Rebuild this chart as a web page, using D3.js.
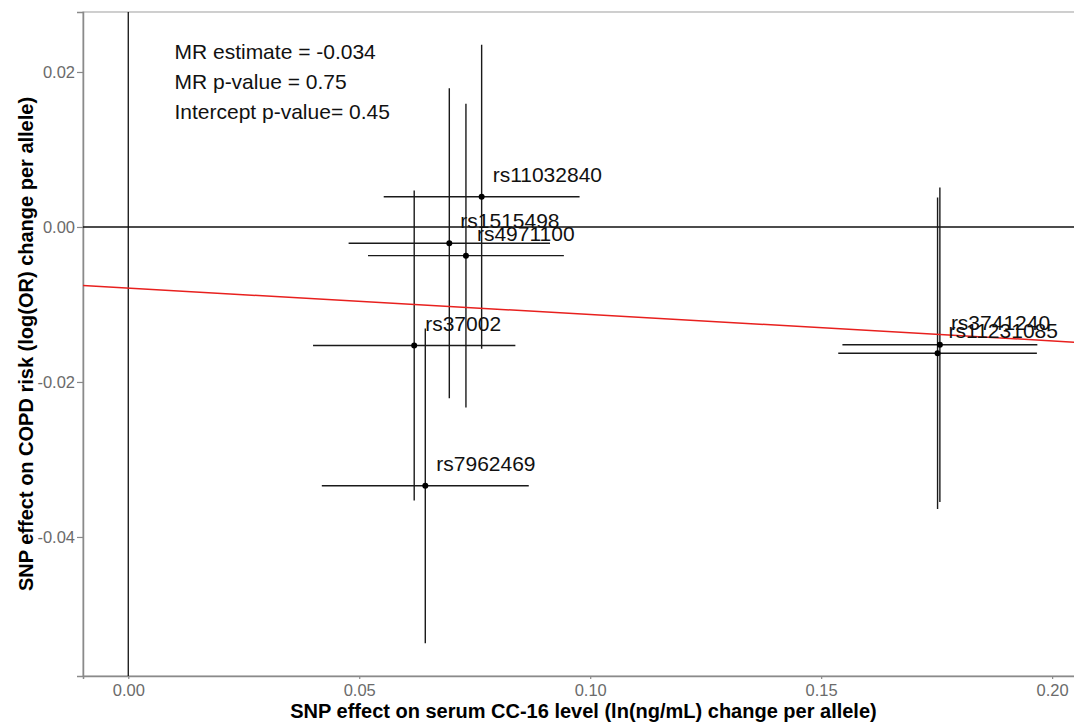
<!DOCTYPE html>
<html>
<head>
<meta charset="utf-8">
<script src="https://cdn.jsdelivr.net/npm/d3@7"></script>
<style>
  body { margin: 0; background: #fff; }
  svg { font-family: "Liberation Sans", Arial, Helvetica, sans-serif; }
</style>
</head>
<body>
<div id="chart"></div>
<script>
(function(){
// SNP data
const snps   = ["rs11032840", "rs1515498", "rs4971100", "rs37002", "rs7962469", "rs3741240", "rs11231085"];
const bx     = [0.0765, 0.0695, 0.0731, 0.0619, 0.0643, 0.1757, 0.1752];
const bxErr  = [0.0212, 0.0218, 0.0212, 0.0219, 0.0224, 0.0211, 0.0215];
const by     = [0.0039, -0.0021, -0.0037, -0.0153, -0.0334, -0.0152, -0.0163];
const byErr  = [0.0196, 0.0200, 0.0196, 0.0200, 0.0203, 0.0203, 0.0201];

const xTicks = [0.00, 0.05, 0.10, 0.15, 0.20];
const xTickLabels = ["0.00", "0.05", "0.10", "0.15", "0.20"];
const yTicks = [0.02, 0.00, -0.02, -0.04];
const yTickLabels = ["0.02", "0.00", "-0.02", "-0.04"];

const fitIntercept = -0.0079;
const fitSlope = -0.034;
const notes = ["MR estimate = -0.034", "MR p-value = 0.75", "Intercept p-value= 0.45"];

const data = snps.map((s, i) => ({ snp: s, x: bx[i], xe: bxErr[i], y: by[i], ye: byErr[i] }));

const W = 1074, H = 725;
const panel = { left: 83, right: 1084, top: 12, bottom: 676 };

const svg = d3.select("#chart").append("svg")
    .attr("width", W)
    .attr("height", H);

const x = d3.scaleLinear()
    .domain([-0.0098, 0.2069])
    .range([panel.left, panel.right]);

const y = d3.scaleLinear()
    .domain([-0.05794, 0.02774])
    .range([panel.bottom, panel.top]);

svg.append("defs").append("clipPath").attr("id", "clip")
  .append("rect")
    .attr("x", panel.left).attr("y", panel.top)
    .attr("width", panel.right - panel.left)
    .attr("height", panel.bottom - panel.top);

// panel border
svg.append("rect")
    .attr("x", panel.left).attr("y", panel.top)
    .attr("width", panel.right - panel.left)
    .attr("height", panel.bottom - panel.top)
    .attr("fill", "none")
    .attr("stroke", "#b5b5b5")
    .attr("stroke-width", 1.3);

// axes
const xAxis = svg.append("g")
    .attr("transform", `translate(0,${panel.bottom})`)
    .call(d3.axisBottom(x).tickValues(xTicks)
        .tickFormat((d, i) => xTickLabels[i]).tickSize(3).tickPadding(5));
xAxis.select(".domain").attr("stroke", "#8a8a8a").attr("stroke-width", 1.5);

const yAxis = svg.append("g")
    .attr("transform", `translate(${panel.left},0)`)
    .call(d3.axisLeft(y).tickValues(yTicks)
        .tickFormat((d, i) => yTickLabels[i]).tickSize(6).tickPadding(2));
yAxis.select(".domain").attr("stroke", "#8a8a8a").attr("stroke-width", 1.5);

svg.selectAll(".tick line").attr("stroke", "#8a8a8a").attr("stroke-width", 1.2);
svg.selectAll(".tick text")
    .attr("fill", "#6b6b6b")
    .style("font-size", "16.5px")
    .style("font-family", "'Liberation Sans', Arial, sans-serif");

const plot = svg.append("g").attr("clip-path", "url(#clip)");

// zero lines
plot.append("line")
    .attr("x1", x(0)).attr("x2", x(0))
    .attr("y1", panel.top).attr("y2", panel.bottom)
    .attr("stroke", "#111").attr("stroke-width", 1.3);
plot.append("line")
    .attr("x1", panel.left).attr("x2", panel.right)
    .attr("y1", y(0)).attr("y2", y(0))
    .attr("stroke", "#111").attr("stroke-width", 1.3);

// error bars
plot.append("g").selectAll("line.h")
    .data(data).enter().append("line")
    .attr("x1", d => x(d.x - d.xe)).attr("x2", d => x(d.x + d.xe))
    .attr("y1", d => y(d.y)).attr("y2", d => y(d.y))
    .attr("stroke", "#1a1a1a").attr("stroke-width", 1.4);
plot.append("g").selectAll("line.v")
    .data(data).enter().append("line")
    .attr("x1", d => x(d.x)).attr("x2", d => x(d.x))
    .attr("y1", d => y(d.y - d.ye)).attr("y2", d => y(d.y + d.ye))
    .attr("stroke", "#1a1a1a").attr("stroke-width", 1.4);

// MR-Egger fit line
const xd = x.domain();
plot.append("line")
    .attr("x1", x(xd[0])).attr("y1", y(fitIntercept + fitSlope * xd[0]))
    .attr("x2", x(xd[1])).attr("y2", y(fitIntercept + fitSlope * xd[1]))
    .attr("stroke", "#e8201e").attr("stroke-width", 1.5);

// points
plot.append("g").selectAll("circle")
    .data(data).enter().append("circle")
    .attr("cx", d => x(d.x)).attr("cy", d => y(d.y))
    .attr("r", 3)
    .attr("fill", "#000");

// SNP labels
plot.append("g").selectAll("text")
    .data(data).enter().append("text")
    .attr("x", d => x(d.x) + 11)
    .attr("y", d => y(d.y) - 15)
    .style("font-size", "21px")
    .attr("fill", "#111")
    .text(d => d.snp);

// annotation
svg.append("g").selectAll("text")
    .data(notes).enter().append("text")
    .attr("x", x(0.01))
    .attr("y", (d, i) => 58.5 + i * 30.4)
    .style("font-size", "21px")
    .attr("fill", "#111")
    .text(d => d);

// axis titles
svg.append("text")
    .attr("text-anchor", "middle")
    .attr("x", (panel.left + panel.right) / 2)
    .attr("y", 718)
    .style("font-size", "20px")
    .style("font-weight", "bold")
    .text("SNP effect on serum CC-16 level (ln(ng/mL) change per allele)");

svg.append("text")
    .attr("text-anchor", "middle")
    .attr("transform", "rotate(-90)")
    .attr("x", -(panel.top + panel.bottom) / 2)
    .attr("y", 33)
    .style("font-size", "20px")
    .style("font-weight", "bold")
    .text("SNP effect on COPD risk (log(OR) change per allele)");
})();
</script>
</body>
</html>
